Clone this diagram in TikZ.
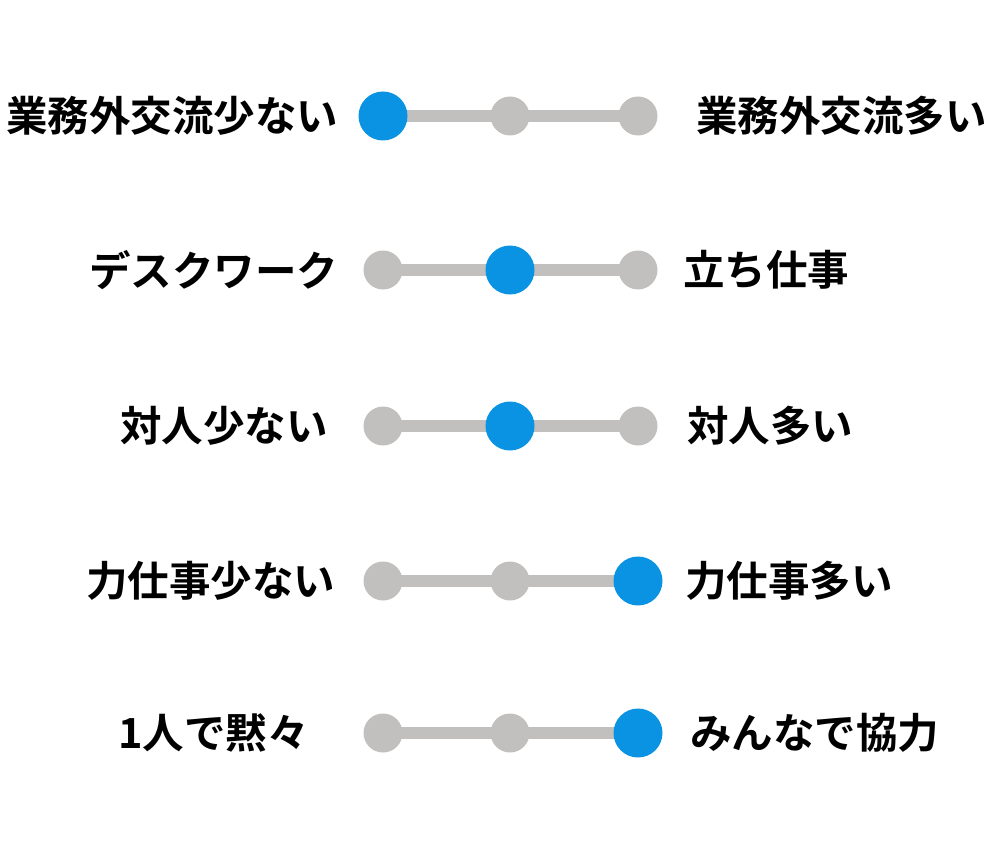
\documentclass[tikz,border=0pt]{standalone}
\usepackage{fontspec}
\newfontfamily\jpfont{Noto Sans CJK JP}[BoldFont={Noto Sans CJK JP Bold}]
\usetikzlibrary{positioning}
\definecolor{DotBlue}{HTML}{0A93E3}
\definecolor{DotGray}{HTML}{C1C0BE}
\pgfdeclarelayer{edgelayer}
\pgfsetlayers{edgelayer,main}
\tikzset{bar/.style={draw=DotGray,line width=12pt,shorten <=-3pt,shorten >=-3pt}}

\begin{document}
\begin{tikzpicture}[x=1pt,y=-1pt]
		\tikzstyle{Dot}=[circle,fill=DotGray,minimum size=39pt,inner sep=0pt]
		\tikzstyle{Pick}=[circle,fill=DotBlue,minimum size=49pt,inner sep=0pt]
		\tikzstyle{Label}=[font={\fontsize{41.5pt}{41.5pt}\selectfont\jpfont\bfseries},inner sep=0pt,anchor=west]

		\useasboundingbox (0,0) rectangle (1000,850);

		\foreach \y/\sel/\lx/\ltext/\rx/\rtext [count=\r] in {
			116/1/6/業務外交流少ない/696/業務外交流多い,
			270/2/89/デスクワーク/683/立ち仕事,
			426/2/120/対人少ない/687/対人多い,
			581/3/86/力仕事少ない/685/力仕事多い,
			733/3/118/1人で黙々/690/みんなで協力}
		{
			\foreach \k/\x in {1/383,2/510,3/638}
			{
				\ifnum \k=\sel
					\node [Pick] (D\r\k) at (\x,\y) {};
				\else
					\node [Dot] (D\r\k) at (\x,\y) {};
				\fi
			}
			\begin{pgfonlayer}{edgelayer}
				\draw [bar] (D\r1) -- (D\r2);
				\draw [bar] (D\r2) -- (D\r3);
			\end{pgfonlayer}
			\node [Label] (L\r) at (\lx,\y) {\ltext};
			\node [Label] (R\r) at (\rx,\y) {\rtext};
		}
\end{tikzpicture}
\end{document}
